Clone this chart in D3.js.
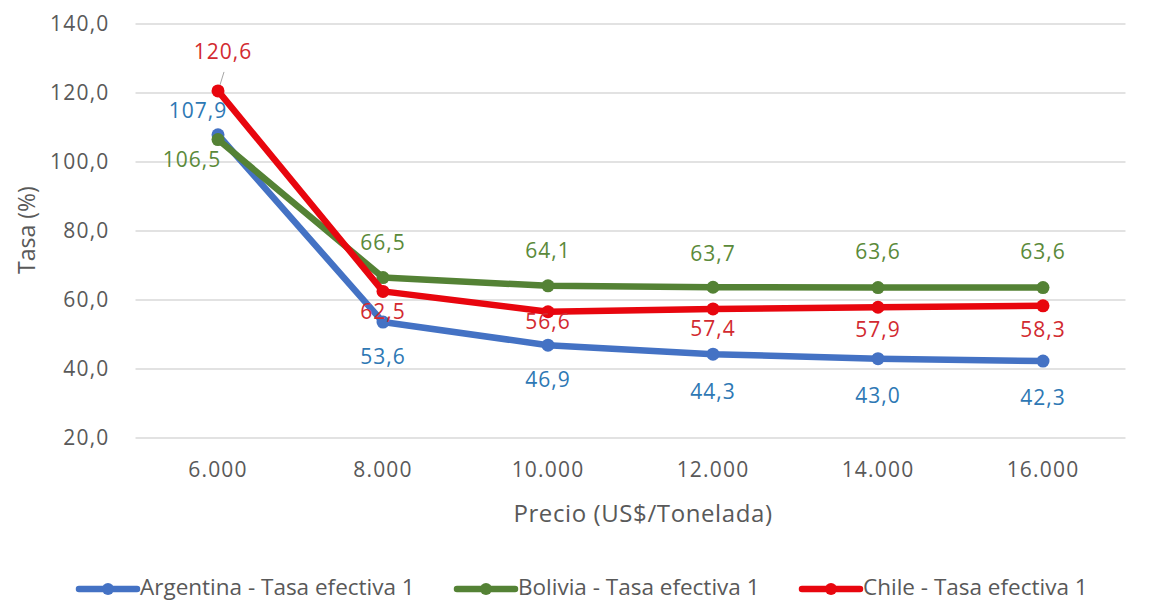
<!DOCTYPE html>
<html>
<head>
<meta charset="utf-8">
<script src="https://cdn.jsdelivr.net/npm/d3@7/dist/d3.min.js"></script>
<style>
  html, body { margin: 0; padding: 0; background: #fff; }
  svg text { font-family: "Open Sans", "Noto Sans", sans-serif; }
</style>
</head>
<body>
<svg id="chart" width="1150" height="602"></svg>
<script>
// Price categories (US$/tonelada)
const categories = ["6.000", "8.000", "10.000", "12.000", "14.000", "16.000"];
// Effective rate (%) by country
const argentina = [107.9, 53.6, 46.9, 44.3, 43.0, 42.3];
const bolivia   = [106.5, 66.5, 64.1, 63.7, 63.6, 63.6];
const chile     = [120.6, 62.5, 56.6, 57.4, 57.9, 58.3];
const yTicks = [20, 40, 60, 80, 100, 120, 140];

const seriesNames = ["Argentina - Tasa efectiva 1", "Bolivia - Tasa efectiva 1", "Chile - Tasa efectiva 1"];

const fmt = v => v.toFixed(1).replace(".", ",");

const series = [
  { name: seriesNames[0], values: argentina, color: "#4472C4", labelColor: "#2E78B4",
    // label offsets (dx, dy) from each point
    offsets: [[-20, -22], [0, 36], [0, 36], [0, 39], [0, 39], [0, 38]] },
  { name: seriesNames[1], values: bolivia, color: "#548235", labelColor: "#5B8A3A",
    offsets: [[-26, 22], [0, -33], [0, -33], [0, -32], [0, -34], [0, -34]] },
  { name: seriesNames[2], values: chile, color: "#E8060E", labelColor: "#D22A30",
    offsets: [[5, -38], [0, 22], [0, 12], [0, 21], [0, 24], [0, 26]] }
];

const svg = d3.select("#chart");
const margin = { left: 135.5, right: 24.5, top: 24, bottom: 164 };
const W = 1150;

const x = d3.scaleBand().domain(categories).range([margin.left, W - margin.right]);
const y = d3.scaleLinear().domain([20, 140]).range([438, 24]);
const cx = c => x(c) + x.bandwidth() / 2;

// horizontal gridlines
svg.append("g")
  .selectAll("line")
  .data(yTicks)
  .join("line")
  .attr("x1", margin.left).attr("x2", W - margin.right)
  .attr("y1", d => y(d)).attr("y2", d => y(d))
  .attr("stroke", "#d9d9d9").attr("stroke-width", 1.3);

// y axis labels
const yAxis = svg.append("g")
  .attr("transform", `translate(${margin.left - 26},0)`)
  .call(d3.axisLeft(y).tickValues(yTicks).tickFormat(fmt).tickSize(0).tickPadding(0));
yAxis.select(".domain").remove();
yAxis.selectAll("text")
  .attr("font-size", 21).attr("fill", "#595959")
  .attr("letter-spacing", 1.2)
  .style("font-family", '"Open Sans", sans-serif');

// x axis labels
const xAxis = svg.append("g")
  .attr("transform", `translate(0,${438})`)
  .call(d3.axisBottom(x).tickSize(0).tickPadding(24));
xAxis.select(".domain").remove();
xAxis.selectAll("text")
  .attr("font-size", 21).attr("fill", "#595959")
  .attr("letter-spacing", 1.2)
  .style("font-family", '"Open Sans", sans-serif');

// axis titles
svg.append("text")
  .attr("x", 643).attr("y", 516)
  .attr("text-anchor", "middle")
  .attr("dominant-baseline", "middle")
  .attr("font-size", 24).attr("fill", "#595959")
  .attr("letter-spacing", 0.6)
  .text("Precio (US$/Tonelada)");

svg.append("text")
  .attr("transform", "translate(29,230) rotate(-90)")
  .attr("text-anchor", "middle")
  .attr("dominant-baseline", "middle")
  .attr("font-size", 23).attr("fill", "#595959")
  .text("Tasa (%)");

// lines and markers
const line = d3.line().x((d, i) => cx(categories[i])).y(d => y(d));

series.forEach(s => {
  const g = svg.append("g");
  g.append("path")
    .datum(s.values)
    .attr("d", line)
    .attr("fill", "none")
    .attr("stroke", s.color)
    .attr("stroke-width", 6.5)
    .attr("stroke-linejoin", "round")
    .attr("stroke-linecap", "round");
  g.selectAll("circle")
    .data(s.values)
    .join("circle")
    .attr("cx", (d, i) => cx(categories[i]))
    .attr("cy", d => y(d))
    .attr("r", 6.5)
    .attr("fill", s.color);
});

// data labels
series.forEach(s => {
  svg.append("g")
    .selectAll("text")
    .data(s.values)
    .join("text")
    .attr("x", (d, i) => cx(categories[i]) + s.offsets[i][0])
    .attr("y", (d, i) => y(d) + s.offsets[i][1])
    .attr("text-anchor", "middle")
    .attr("dominant-baseline", "middle")
    .attr("font-size", 21)
    .attr("letter-spacing", 1)
    .attr("fill", s.labelColor)
    .text(fmt);
});

// leader line for the Chile label at 6.000
svg.append("line")
  .attr("x1", cx(categories[0]) + 2).attr("y1", y(chile[0]) - 6)
  .attr("x2", cx(categories[0]) + 6).attr("y2", y(chile[0]) - 19)
  .attr("stroke", "#a6a6a6").attr("stroke-width", 1);

// legend
const legendX = [79, 457, 802];
const legend = svg.append("g");
series.forEach((s, i) => {
  const g = legend.append("g").attr("transform", `translate(${legendX[i]},589)`);
  g.append("line").attr("x1", 0).attr("x2", 58).attr("y1", 0).attr("y2", 0)
    .attr("stroke", s.color).attr("stroke-width", 6.5).attr("stroke-linecap", "round");
  g.append("circle").attr("cx", 29).attr("cy", 0).attr("r", 6).attr("fill", s.color);
  g.append("text").attr("x", 61).attr("y", 0)
    .attr("dominant-baseline", "middle")
    .attr("font-size", 22.5).attr("fill", "#595959")
    .text(s.name);
});
</script>
</body>
</html>
